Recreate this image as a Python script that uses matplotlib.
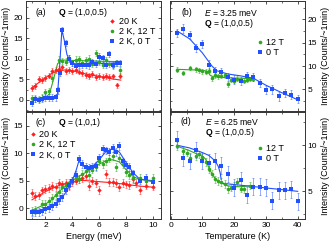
import numpy as np
import matplotlib
matplotlib.use("Agg")
import matplotlib.pyplot as plt
from matplotlib.ticker import MultipleLocator

plt.rcParams['font.family'] = ['Liberation Sans', 'DejaVu Sans']
plt.rcParams['mathtext.fontset'] = 'custom'
plt.rcParams['mathtext.rm'] = 'Liberation Sans'
plt.rcParams['mathtext.it'] = 'Liberation Sans:italic'
plt.rcParams['mathtext.bf'] = 'Liberation Sans:bold'

RED = '#ff1f1f'
GREEN = '#2fa81f'
BLUE = '#2050ff'

# ---- panel (a): Q = (1,0,0.5), energy scans
a_red_E = [1.0, 1.25, 1.5, 1.75, 2.0, 2.25, 2.5, 2.75, 3.0, 3.25, 3.5, 3.75, 4.0, 4.25,
           4.5, 4.75, 5.0, 5.25, 5.5, 5.75, 6.0, 6.25, 6.5, 6.75, 7.0, 7.3, 7.55]
a_red_I = [2.8, 3.4, 5.1, 4.8, 5.3, 5.9, 7.1, 7.3, 7.5, 7.9, 7.0, 7.2, 7.0, 7.3,
           6.9, 6.6, 6.0, 5.8, 6.3, 5.6, 5.8, 5.5, 5.8, 5.6, 5.7, 3.5, 5.9]
a_red_fitE = [1.0, 1.5, 2.0, 2.5, 3.0, 3.5, 4.0, 4.5, 5.0, 6.0, 7.0, 7.6]
a_red_fitI = [2.9, 4.2, 5.4, 6.5, 7.1, 7.3, 7.1, 6.7, 6.3, 5.7, 5.1, 4.8]

a_grn_E = [1.0, 1.25, 1.5, 1.75, 2.0, 2.25, 2.5, 3.0, 3.25, 3.5, 3.75, 4.0, 4.25, 4.5,
           4.75, 5.0, 5.25, 5.5, 5.75, 6.0, 6.25, 6.5, 6.75, 7.0, 7.25, 7.55]
a_grn_I = [0.4, 0.3, 0.2, 0.5, 1.9, 2.1, 5.3, 9.8, 9.5, 9.3, 10.2, 9.0, 9.8, 9.9,
           9.0, 9.7, 10.0, 8.8, 11.4, 9.3, 8.5, 9.6, 8.7, 8.2, 9.0, 7.2]
a_grn_fitE = [1.0, 2.0, 2.3, 2.6, 2.9, 3.2, 4.0, 5.0, 6.0, 7.6]
a_grn_fitI = [0.3, 0.5, 1.5, 5.0, 8.8, 9.7, 9.6, 9.5, 9.4, 9.3]

a_blu_E = [1.0, 1.25, 1.5, 1.75, 2.0, 2.25, 2.5, 2.75, 2.9, 3.05, 3.25, 3.5, 3.75, 4.0,
           4.25, 4.5, 4.75, 5.0, 5.25, 5.5, 5.75, 6.0, 6.25, 6.5, 6.75, 7.0, 7.3, 7.55]
a_blu_I = [-0.8, 0.2, 0.0, 0.3, 0.5, 0.5, 0.5, 0.6, 2.3, 6.6, 17.0, 13.8, 10.0, 9.0,
           8.3, 8.6, 8.5, 8.5, 8.4, 9.2, 8.8, 10.5, 10.1, 8.6, 11.2, 8.5, 9.0, 9.0]
a_blu_fitE = [1.0, 2.7, 2.9, 3.05, 3.22, 3.4, 3.6, 3.9, 4.5, 5.5, 6.5, 7.6]
a_blu_fitI = [0.2, 0.3, 1.5, 8.0, 17.0, 14.5, 11.0, 9.0, 8.6, 8.7, 8.9, 9.0]

# ---- panel (c): Q = (1,0,1), energy scans
c_red_E = [1.0, 1.25, 1.5, 1.75, 2.0, 2.25, 2.5, 2.75, 3.0, 3.25, 3.5, 3.75, 4.0, 4.25,
           4.5, 4.75, 5.0, 5.25, 5.5, 5.75, 6.0, 6.5, 6.75, 7.0, 7.25, 7.5, 7.75, 8.0,
           8.25, 8.5, 8.75, 9.0, 9.5, 10.0]
c_red_I = [2.7, 2.2, 2.3, 3.2, 3.5, 3.7, 4.0, 3.8, 4.5, 4.3, 4.5, 4.0, 4.8, 5.0,
           5.3, 5.5, 5.9, 4.0, 5.0, 4.5, 3.3, 6.2, 4.7, 4.7, 4.6, 3.8, 4.6, 4.3,
           4.2, 5.3, 4.5, 3.3, 4.1, 3.9]
c_red_fitE = [1.0, 2.0, 3.0, 4.0, 4.5, 5.0, 6.0, 7.0, 8.0, 9.0, 10.0]
c_red_fitI = [1.5, 3.0, 4.1, 4.8, 5.0, 5.0, 4.8, 4.6, 4.3, 4.0, 3.8]

c_grn_E = [1.0, 1.25, 1.75, 2.0, 2.25, 2.5, 2.75, 3.0, 3.25, 3.5, 3.75, 4.0, 4.25, 4.5,
           4.75, 5.0, 5.25, 5.5, 5.75, 6.0, 6.25, 6.5, 6.75, 7.0, 7.25, 7.5, 7.75, 8.0,
           8.25, 8.5, 9.0, 9.5, 10.0]
c_grn_I = [-0.5, -0.4, 0.8, 0.8, 1.3, 1.8, 2.3, 3.0, 3.8, 4.2, 4.5, 5.0, 5.5, 5.3,
           6.2, 6.8, 6.0, 7.0, 7.5, 8.5, 8.0, 8.5, 9.0, 9.5, 7.5, 9.2, 8.0, 6.5,
           6.0, 5.5, 5.5, 5.0, 5.5]
c_grn_fitE = [1.0, 2.0, 2.5, 3.0, 3.5, 4.0, 5.0, 6.0, 6.5, 7.0, 7.5, 8.0, 8.5, 9.0, 10.0]
c_grn_fitI = [-0.4, 0.7, 1.6, 3.0, 4.0, 5.0, 6.5, 8.0, 8.6, 8.8, 8.4, 7.0, 5.8, 5.2, 5.0]

c_blu_E = [1.0, 1.25, 1.5, 1.75, 2.0, 2.25, 2.5, 2.75, 3.0, 3.25, 3.5, 3.75, 4.0, 4.25,
           4.5, 4.75, 5.0, 5.25, 5.5, 5.75, 6.0, 6.25, 6.5, 6.75, 7.0, 7.25, 7.5, 7.75,
           8.0, 8.25, 8.5, 9.0, 9.5, 10.0]
c_blu_I = [-0.8, -0.8, -0.7, -0.5, -0.2, 0.0, 0.3, 0.8, 1.5, 2.0, 3.2, 4.2, 5.0, 6.0,
           9.0, 8.0, 7.5, 7.3, 7.5, 7.6, 9.2, 10.8, 10.5, 10.3, 11.0, 10.2, 11.3, 8.5,
           7.8, 7.5, 6.3, 5.0, 5.5, 4.8]
c_blu_fitE = [1.0, 2.0, 2.5, 3.0, 3.5, 4.0, 4.3, 4.5, 4.75, 5.0, 5.5, 6.0, 6.5, 7.0,
              7.5, 8.0, 8.5, 9.0, 10.0]
c_blu_fitI = [-0.5, -0.3, 0.2, 1.2, 2.8, 5.0, 7.0, 8.7, 7.8, 7.3, 7.6, 8.8, 10.3, 10.8,
              10.2, 8.3, 6.5, 5.3, 4.8]

# ---- panel (b): E = 3.25 meV, temperature scans
b_blu_T = [2, 4, 6, 8, 10, 12, 14, 16, 18, 20, 22, 24, 26, 28, 30, 32, 34, 36, 38, 40]
b_blu_I = [17.0, 18.0, 16.6, 13.8, 14.7, 10.3, 9.0, 8.7, 7.6, 7.1, 6.8, 7.8, 7.6, 6.4,
           4.9, 5.0, 3.5, 4.2, 3.9, 2.9]
b_blu_fitT = [2, 6, 10, 13, 14.5, 18, 22, 26, 30, 35, 40]
b_blu_fitI = [17.5, 15.8, 12.8, 10.0, 9.0, 8.3, 7.9, 7.4, 5.9, 4.3, 2.8]

b_grn_T = [2, 4, 6, 8, 9, 10, 11, 12, 13, 14, 15, 16, 17, 18, 19, 20, 21, 22, 23, 24, 25, 26]
b_grn_I = [9.2, 8.5, 9.6, 9.3, 9.1, 8.9, 8.8, 9.0, 7.4, 8.0, 7.8, 7.9, 8.0, 6.1, 7.1,
           6.8, 7.3, 7.0, 6.9, 7.1, 7.2, 7.2]
b_grn_fitT = [2, 6, 10, 11.5, 12.5, 13.5, 18, 26]
b_grn_fitI = [9.3, 9.2, 9.1, 8.9, 8.0, 7.7, 7.5, 7.3]

# ---- panel (d): E = 6.25 meV, temperature scans
d_blu_T = [2, 4, 6, 8, 10, 12, 14, 16, 18, 20, 22, 24, 26, 28, 30, 32, 34, 36, 38, 40]
d_blu_I = [10.6, 8.6, 8.3, 9.5, 8.3, 8.1, 8.3, 7.8, 6.9, 5.4, 6.2, 4.6, 5.5, 5.5, 5.4,
           4.0, 5.1, 5.1, 5.2, 3.9]
d_blu_fitT = [2, 6, 10, 12, 14, 15, 15.6, 15.9]
d_blu_fitI = [10.0, 9.7, 9.2, 8.9, 8.3, 7.7, 7.0, 6.3]
d_bg_fitT = [15.6, 40]
d_bg_fitI = [5.9, 5.0]

d_grn_T = [2, 4, 5, 6, 8, 9, 10, 11, 12, 13, 14, 15, 16, 17, 18, 19, 20, 21, 22, 23, 25]
d_grn_I = [9.9, 9.4, 9.2, 8.6, 8.8, 9.0, 8.7, 8.2, 7.4, 6.9, 6.3, 6.1, 6.0, 5.8, 5.2,
           5.4, 5.6, 6.0, 5.3, 5.2, 5.6]
d_grn_fitT = [2, 6, 10, 11, 12, 13, 14, 15, 16, 18, 20, 22, 25]
d_grn_fitI = [9.9, 9.4, 8.8, 8.5, 7.6, 6.9, 6.4, 6.1, 5.9, 5.6, 5.5, 5.5, 5.6]

W, H = 330, 246
fig = plt.figure(figsize=(W / 100, H / 100), dpi=100)


def rect(x0, y0, x1, y1):
    return [x0 / W, 1 - y1 / H, (x1 - x0) / W, (y1 - y0) / H]


ax_a = fig.add_axes(rect(26, 0.5, 161, 110.5))
ax_b = fig.add_axes(rect(170, 0.5, 305, 110.5))
ax_c = fig.add_axes(rect(26, 112, 161, 219))
ax_d = fig.add_axes(rect(170, 112, 305, 219))

FS = 6.5
AFS = 6.2
TFS = 6


def series(ax, x, y, err, col, mk, label, ms=2.6):
    ax.errorbar(x, y, yerr=err, fmt='none', ecolor=col, alpha=0.55, elinewidth=0.6,
                capsize=1.0, capthick=0.6, zorder=2)
    ax.plot(x, y, mk, color=col, ms=ms, mew=0, label=label, zorder=3)


def fit(ax, x, y, col):
    ax.plot(x, y, '-', color=col, lw=0.8, zorder=2.5)


def style(ax):
    for s in ax.spines.values():
        s.set_linewidth(0.7)
        s.set_color('#333333')
    ax.tick_params(which='both', direction='in', top=True, right=True, labelsize=TFS,
                   pad=2, color='#333333')
    ax.tick_params(which='major', length=2.5, width=0.6)
    ax.tick_params(which='minor', length=1.5, width=0.5)


def legend(ax, x, y):
    ax.legend(loc='upper left', bbox_to_anchor=(x, y), frameon=False, fontsize=FS,
              handlelength=0.6, handletextpad=0.4, labelspacing=0.12, borderpad=0,
              borderaxespad=0, markerscale=1.0)


def note(ax, x, y, s):
    ax.text(x, y, s, transform=ax.transAxes, fontsize=AFS, va='center')


# (a)
series(ax_a, a_red_E, a_red_I, 0.7, RED, 'D', '20 K', ms=2.3)
series(ax_a, a_grn_E, a_grn_I, 0.8, GREEN, 'o', '2 K, 12 T')
series(ax_a, a_blu_E, a_blu_I, 0.8, BLUE, 's', '2 K, 0 T')
fit(ax_a, a_red_fitE, a_red_fitI, RED)
fit(ax_a, a_grn_fitE, a_grn_fitI, GREEN)
fit(ax_a, a_blu_fitE, a_blu_fitI, BLUE)
ax_a.set_xlim(0.55, 10.6)
ax_a.set_ylim(-2.6, 24.2)
ax_a.set_yticks([0, 5, 10, 15, 20])
ax_a.xaxis.set_major_locator(MultipleLocator(2))
ax_a.xaxis.set_minor_locator(MultipleLocator(1))
ax_a.yaxis.set_minor_locator(MultipleLocator(2.5))
ax_a.tick_params(labelbottom=False)
legend(ax_a, 0.62, 0.85)
note(ax_a, 0.067, 0.89, '(a)')
note(ax_a, 0.239, 0.89, r'$\mathbf{Q}$ = (1,0,0.5)')

# (b)
series(ax_b, b_grn_T, b_grn_I, 0.5, GREEN, 'o', '12 T')
series(ax_b, b_blu_T, b_blu_I, 0.9, BLUE, 's', '0 T')
fit(ax_b, b_grn_fitT, b_grn_fitI, GREEN)
fit(ax_b, b_blu_fitT, b_blu_fitI, BLUE)
ax_b.set_xlim(-0.2, 42.3)
ax_b.set_ylim(0.5, 24.0)
ax_b.set_yticks([5, 10, 15, 20])
ax_b.xaxis.set_major_locator(MultipleLocator(10))
ax_b.xaxis.set_minor_locator(MultipleLocator(5))
ax_b.yaxis.set_minor_locator(MultipleLocator(2.5))
ax_b.tick_params(labelbottom=False, labelleft=False, labelright=True)
legend(ax_b, 0.645, 0.66)
note(ax_b, 0.087, 0.89, '(b)')
note(ax_b, 0.254, 0.89, r'$E$ = 3.25 meV')
note(ax_b, 0.254, 0.795, r'$\mathbf{Q}$ = (1,0,0.5)')

# (c)
series(ax_c, c_red_E, c_red_I, 0.7, RED, 'D', '20 K', ms=2.3)
series(ax_c, c_grn_E, c_grn_I, 0.7, GREEN, 'o', '2 K, 12 T')
series(ax_c, c_blu_E, c_blu_I, 0.7, BLUE, 's', '2 K, 0 T')
fit(ax_c, c_red_fitE, c_red_fitI, RED)
fit(ax_c, c_grn_fitE, c_grn_fitI, GREEN)
fit(ax_c, c_blu_fitE, c_blu_fitI, BLUE)
ax_c.set_xlim(0.55, 10.6)
ax_c.set_ylim(-2.0, 17.5)
ax_c.set_yticks([0, 5, 10, 15])
ax_c.xaxis.set_major_locator(MultipleLocator(2))
ax_c.xaxis.set_minor_locator(MultipleLocator(1))
ax_c.yaxis.set_minor_locator(MultipleLocator(2.5))
ax_c.set_xlabel('Energy (meV)', fontsize=FS, labelpad=2)
legend(ax_c, 0.03, 0.83)
note(ax_c, 0.067, 0.905, '(c)')
note(ax_c, 0.239, 0.905, r'$\mathbf{Q}$ = (1,0,1)')

# (d)
series(ax_d, d_grn_T, d_grn_I, 0.4, GREEN, 'o', '12 T')
series(ax_d, d_blu_T, d_blu_I, 0.9, BLUE, 's', '0 T')
fit(ax_d, d_grn_fitT, d_grn_fitI, GREEN)
fit(ax_d, d_blu_fitT, d_blu_fitI, BLUE)
fit(ax_d, d_bg_fitT, d_bg_fitI, BLUE)
ax_d.set_xlim(-0.2, 42.3)
ax_d.set_ylim(2.0, 13.6)
ax_d.set_yticks([5, 10])
ax_d.xaxis.set_major_locator(MultipleLocator(10))
ax_d.xaxis.set_minor_locator(MultipleLocator(5))
ax_d.yaxis.set_minor_locator(MultipleLocator(2.5))
ax_d.tick_params(labelleft=False, labelright=True)
ax_d.set_xlabel('Temperature (K)', fontsize=FS, labelpad=2)
legend(ax_d, 0.645, 0.70)
note(ax_d, 0.079, 0.91, '(d)')
note(ax_d, 0.26, 0.91, r'$E$ = 6.25 meV')
note(ax_d, 0.26, 0.81, r'$\mathbf{Q}$ = (1,0,0.5)')

for ax in (ax_a, ax_b, ax_c, ax_d):
    style(ax)

ylab = 'Intensity (Counts/~1min)'
for ax in (ax_a, ax_c):
    ax.set_ylabel(ylab, fontsize=FS, labelpad=2)
for ax in (ax_b, ax_d):
    ax.yaxis.set_label_position('right')
    ax.set_ylabel(ylab, fontsize=FS, labelpad=3)

fig.savefig('out.png', dpi=100)
